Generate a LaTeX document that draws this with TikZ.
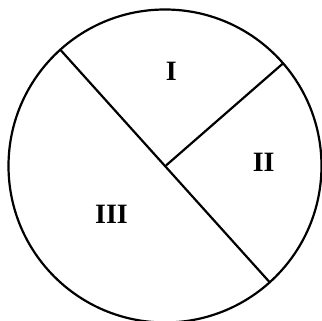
\documentclass[tikz,border=0pt]{standalone}
\usepackage{fontspec}
\setmainfont{Liberation Serif}
\tikzset{
  rim/.style={circle,draw=black,line width=2.2pt,minimum size=313pt,inner sep=0pt,outer sep=0pt},
  cut/.style={line width=2.2pt,draw=black,line cap=round},
  region/.style={font=\fontsize{28}{28}\selectfont\bfseries,inner sep=0pt}
}
\begin{document}
\begin{tikzpicture}[x=1pt,y=1pt]
  \useasboundingbox (0,0) rectangle (322,321);
  \node[rim] (disc) at (165,155) {};
  \coordinate (hub) at (166,155.5);
  \draw[cut] (disc.132) -- (disc.-48);
  \draw[cut] (hub) -- (disc.41.8);

  \node[region] (one) at (171.3,249.5) {I};
  \node[region] (two) at (263.7,158.2) {II};
  \node[region] (three) at (111.5,106.3) {III};
\end{tikzpicture}
\end{document}
